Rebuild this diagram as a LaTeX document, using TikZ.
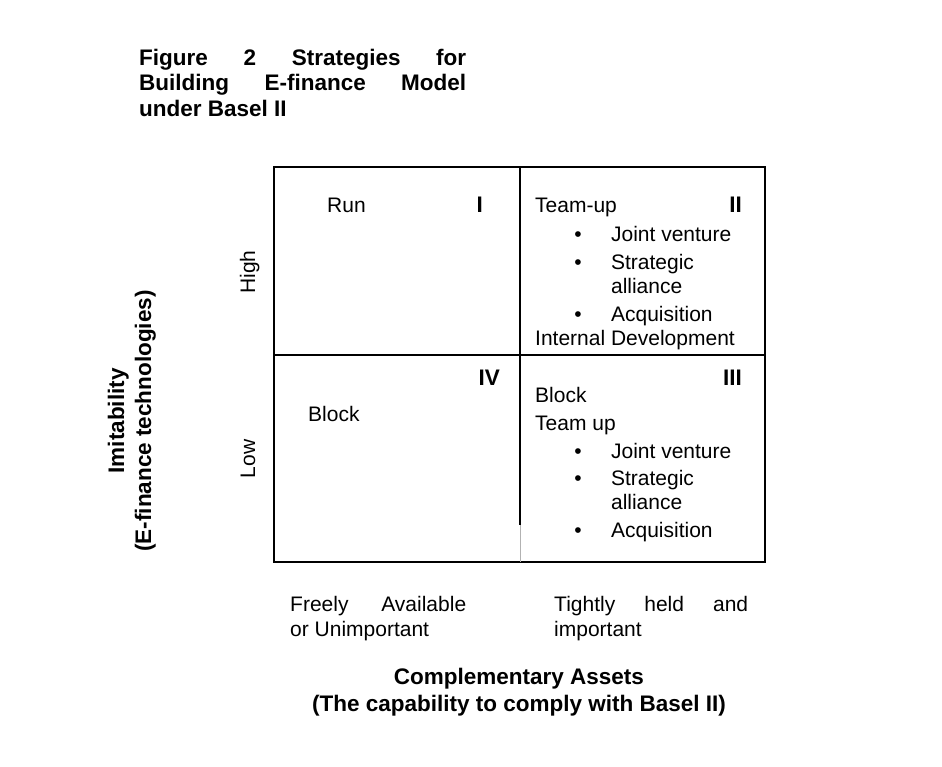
\documentclass[tikz,border=0pt]{standalone}
\usepackage{fontspec}
\setmainfont{Liberation Sans}
\usetikzlibrary{positioning}

\begin{document}
\begin{tikzpicture}[x=1pt,y=-1pt,
	every node/.style={inner sep=0pt},
	txt/.style={font=\fontsize{21}{24}\selectfont,anchor=base west},
	hd/.style={font=\fontsize{22.5}{25.5}\selectfont\bfseries},
	bul/.style={font=\fontsize{21}{24}\selectfont,anchor=base},
	frame/.style={line width=2pt}]
	\def\xL{274};
	\def\xM{520};
	\def\xR{765};
	\def\yT{167};
	\def\yM{355};
	\def\yB{562};
\useasboundingbox (0,0) rectangle (942,767); % page size

%Coins du cadre
\coordinate (NW) at (\xL,\yT);
\coordinate (SE) at (\xR,\yB);
\coordinate (Ntop) at (\xM,\yT);
\coordinate (Nmid) at (\xM,525);
\coordinate (Nbot) at (\xM,\yB);
\coordinate (Wmid) at (\xL,\yM);
\coordinate (Emid) at (\xR,\yM);

%Titre
\node[hd,anchor=north west,text width=327pt,align=justify] (title) at (139,48.5)
	{Figure 2 Strategies for\linebreak Building E-finance Model\linebreak under Basel II};

%Cadre
\draw[frame] (NW) rectangle (SE);
\draw[frame] (Wmid) -- (Emid);
\draw[frame] (Ntop) -- (Nmid);
\draw[gray!60,line width=1pt] (Nmid) -- (Nbot);

%Quadrant I
\node[txt] (run) at (327,213) {Run};
\node[hd,anchor=base east] (qI) at (483,213) {I};

%Quadrant II
\node[txt] (teamII) at (535,213) {Team-up};
\node[hd,anchor=base east] (qII) at (742,213) {II};
\node[bul] (bIIa) at (578,242) {\textbullet};
\node[txt,base right=29pt of bIIa] (jvII) {Joint venture};
\node[bul] (bIIb) at (578,270) {\textbullet};
\node[txt,base right=29pt of bIIb] (saII) {Strategic};
\node[txt] (saIIb) at (saII.base west) [yshift=-24pt] {alliance};
\node[bul] (bIIc) at (578,321) {\textbullet};
\node[txt,base right=29pt of bIIc] (acII) {Acquisition};
\node[txt] (idII) at (535,345) {Internal Development};

%Quadrant IV
\node[hd,anchor=base east] (qIV) at (500,385) {IV};
\node[txt] (blockIV) at (308,421) {Block};

%Quadrant III
\node[hd,anchor=base east] (qIII) at (742,385) {III};
\node[txt] (blockIII) at (535,402) {Block};
\node[txt] (teamIII) at (535,430) {Team up};
\node[bul] (bIIIa) at (578,458) {\textbullet};
\node[txt,base right=29pt of bIIIa] (jvIII) {Joint venture};
\node[bul] (bIIIb) at (578,485) {\textbullet};
\node[txt,base right=29pt of bIIIb] (saIII) {Strategic};
\node[txt] (saIIIb) at (saIII.base west) [yshift=-24pt] {alliance};
\node[bul] (bIIIc) at (578,537) {\textbullet};
\node[txt,base right=29pt of bIIIc] (acIII) {Acquisition};

%Axe vertical
\node[font=\fontsize{21}{24}\selectfont,rotate=90,anchor=base] (high) at (255,272) {High};
\node[font=\fontsize{21}{24}\selectfont,rotate=90,anchor=base] (low) at (255,459) {Low};
\node[hd,rotate=90,anchor=base] (imit) at (124,421) {Imitability};
\node[hd,rotate=90,anchor=base] (imitsub) at (151,421) {(E-finance technologies)};

%Axe horizontal
\node[font=\fontsize{21}{25}\selectfont,anchor=north west,text width=176pt,align=justify] (freely) at (290,596)
	{Freely Available\linebreak or Unimportant};
\node[font=\fontsize{21}{25}\selectfont,anchor=north west,text width=194pt,align=justify] (tightly) at (554,596)
	{Tightly held and\linebreak important};
\node[hd,anchor=north,align=center] (compl) at (519,667.5)
	{Complementary Assets\\[1.5pt](The capability to comply with Basel II)};

\end{tikzpicture}
\end{document}
